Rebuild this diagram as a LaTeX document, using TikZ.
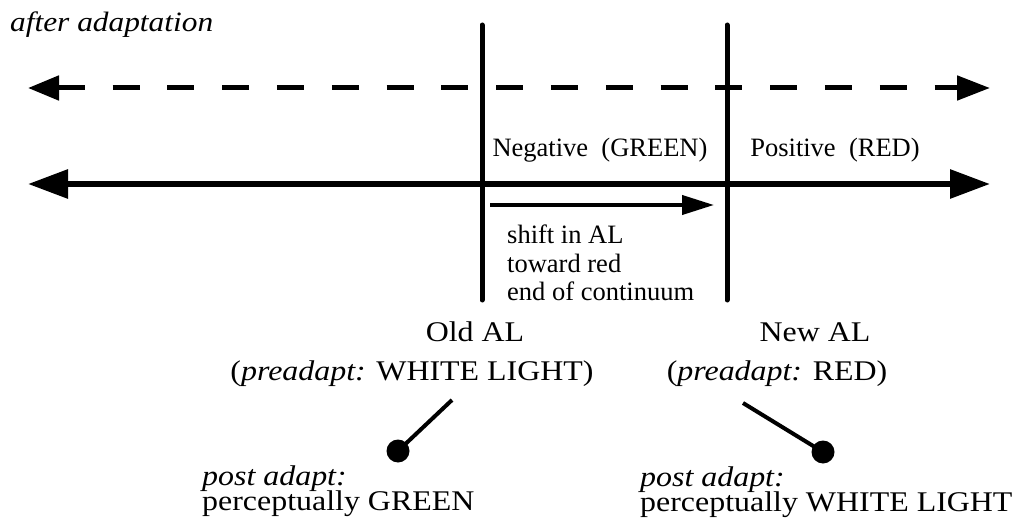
\documentclass[tikz,border=0pt]{standalone}
\usepackage{fontspec}
\setmainfont{Liberation Serif}
% a slightly wider cut for the captions below the axis
\newfontfamily\widefont[FakeStretch=1.12]{Liberation Serif}
\usetikzlibrary{arrows.meta}

\begin{document}
\begin{tikzpicture}[x=1pt,y=-1pt,
  txt/.style={inner sep=0pt, font=\widefont\fontsize{28.5}{28.5}\selectfont},
  captxt/.style={inner sep=0pt, font=\widefont\fontsize{28.5}{28.5}\selectfont},
  small/.style={inner sep=0pt, font=\fontsize{26.5}{26.5}\selectfont},
  axis/.style={line width=6pt, {Triangle[length=40pt,width=28pt]}-{Triangle[length=40pt,width=28pt]}},
  dashaxis/.style={line width=5pt, dash pattern=on 27pt off 27.8pt,
    {Triangle[length=31pt,width=24pt]}-{Triangle[length=33pt,width=24pt]}},
  marker/.style={line width=5pt, line cap=round},
  shiftarrow/.style={line width=4pt, -{Triangle[length=32pt,width=19pt]}},
  link/.style={line width=4pt},
  dot/.style={circle, fill=black, inner sep=0pt, minimum size=23pt}]
\useasboundingbox (0,0) rectangle (1021,519);

% heading
\node[inner sep=0pt, anchor=base west, font=\widefont\fontsize{28}{28}\selectfont\itshape]
  (title) at (10,32) {after adaptation};

% end points of the two continua
\coordinate (dl) at (28,88);  \coordinate (dr) at (990,88);
\coordinate (sl) at (28,184); \coordinate (sr) at (990,184);

% old and new adaptation levels
\coordinate (oldtop) at (482,25); \coordinate (oldbot) at (482,300);
\coordinate (newtop) at (727,25); \coordinate (newbot) at (727,300);

\draw[dashaxis] (dl) -- (dr);
\draw[axis] (sl) -- (sr);
\draw[marker] (oldtop) -- (oldbot);
\draw[marker] (newtop) -- (newbot);

% region labels
\node[small, anchor=base] (neg) at (600,157) {Negative\hspace{0.5em}(GREEN)};
\node[small, anchor=base] (pos) at (835,157) {Positive\hspace{0.5em}(RED)};

% shift of the adaptation level
\coordinate (shs) at (490,205); \coordinate (she) at (714,205);
\draw[shiftarrow] (shs) -- (she);
\node[small, anchor=base west] (sh1) at (507,243) {shift in AL};
\node[small, anchor=base west] (sh2) at (507,272) {toward red};
\node[small, anchor=base west] (sh3) at (507,300) {end of continuum};

% adaptation level captions
\node[captxt, anchor=base] (old) at (475,341) {Old AL};
\node[captxt, anchor=base] (oldpre) at (412,380) {(\textit{preadapt:} WHITE LIGHT)};
\node[captxt, anchor=base] (new) at (815,341) {New AL};
\node[captxt, anchor=base] (newpre) at (777,380) {(\textit{preadapt:} RED)};

% post-adaptation appearance
\node[dot] (dot1) at (398,451) {};
\node[dot] (dot2) at (823,452) {};
\coordinate (l1) at (452,400);
\coordinate (l2) at (743,403);
\draw[link] (l1) -- (dot1.center);
\draw[link] (l2) -- (dot2.center);

\node[txt, anchor=base west] (post1) at (202,485) {\textit{post adapt:}};
\node[txt, anchor=base west] (perc1) at (202,510) {perceptually GREEN};
\node[txt, anchor=base west] (post2) at (640,486) {\textit{post adapt:}};
\node[txt, anchor=base west] (perc2) at (640,511) {perceptually WHITE LIGHT};
\end{tikzpicture}
\end{document}
